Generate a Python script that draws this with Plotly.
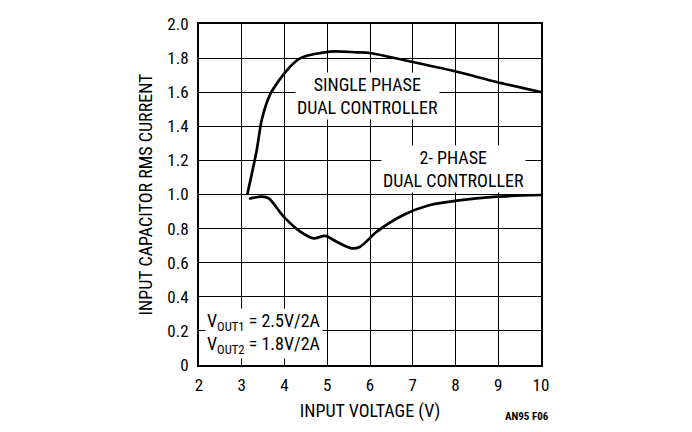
import plotly.graph_objects as go

# ---- data ----
single_v = [3.13, 3.35, 3.47, 3.67, 4.06, 4.37, 5.07, 5.69, 6.0, 6.94, 8.03, 8.96, 10.0]
single_i = [1.00, 1.26, 1.44, 1.59, 1.73, 1.80, 1.838, 1.834, 1.83, 1.78, 1.72, 1.66, 1.60]

two_v = [3.17, 3.47, 3.63, 3.98, 4.37, 4.68, 4.95, 5.22, 5.57, 5.77, 6.16, 6.78, 7.40, 8.03, 8.96, 10.0]
two_i = [0.975, 0.987, 0.978, 0.87, 0.782, 0.743, 0.757, 0.723, 0.684, 0.694, 0.782, 0.88, 0.938, 0.964, 0.987, 0.997]

x_ticks = [2, 3, 4, 5, 6, 7, 8, 9, 10]
y_ticks = [0, 0.2, 0.4, 0.6, 0.8, 1.0, 1.2, 1.4, 1.6, 1.8, 2.0]
y_labels = ["0", "0.2", "0.4", "0.6", "0.8", "1.0", "1.2", "1.4", "1.6", "1.8", "2.0"]

FONT = "Liberation Sans Narrow, Roboto Condensed, Liberation Sans, Arial"

fig = go.Figure()
fig.add_trace(go.Scatter(x=single_v, y=single_i, mode="lines",
                         line=dict(color="black", width=2.7, shape="spline", smoothing=0.8)))
fig.add_trace(go.Scatter(x=two_v, y=two_i, mode="lines",
                         line=dict(color="black", width=2.7, shape="spline", smoothing=0.8)))

lbl = dict(showarrow=False, bgcolor="white", borderpad=1,
           font=dict(family=FONT, size=18, color="black"),
           xref="x", yref="y", align="center")
fig.add_annotation(x=5.94, y=1.575, text="SINGLE PHASE<br>DUAL CONTROLLER", **lbl)
fig.add_annotation(x=7.95, y=1.15, text="2- PHASE<br>DUAL CONTROLLER", **lbl)
fig.add_annotation(x=2.15, y=0.185, xanchor="left", align="left",
                   text="V<sub>OUT1</sub> = 2.5V/2A<br>V<sub>OUT2</sub> = 1.8V/2A",
                   showarrow=False, bgcolor="white",
                   font=dict(family=FONT, size=18, color="black"))
fig.add_annotation(x=1.03, y=-0.15, xref="paper", yref="paper",
                   xanchor="right", yanchor="middle",
                   text="<b>AN95 F06</b>", showarrow=False,
                   font=dict(family=FONT, size=11, color="black"))

axis_common = dict(showgrid=True, gridcolor="black", gridwidth=1, zeroline=False,
                   showline=True, linecolor="black", linewidth=2, mirror=True,
                   automargin=False,
                   ticks="", tickfont=dict(family=FONT, size=17, color="black"))

fig.update_xaxes(range=[2, 10], tickvals=x_ticks, ticklabelstandoff=4,
                 title=dict(text="INPUT VOLTAGE (V)", font=dict(family=FONT, size=18, color="black"),
                            standoff=10),
                 **axis_common)
fig.update_yaxes(range=[0, 2.0], tickvals=y_ticks, ticktext=y_labels, ticklabelstandoff=5,
                 title=dict(text="INPUT CAPACITOR RMS CURRENT",
                            font=dict(family=FONT, size=18, color="black"), standoff=10),
                 **axis_common)

# page body adds 8px around the figure, so the figure is 16px smaller than the window
fig.update_layout(width=676, height=416, showlegend=False,
                  plot_bgcolor="white", paper_bgcolor="white",
                  margin=dict(l=191, r=143, t=16, b=59, autoexpand=False))

fig.write_html("out.html")
